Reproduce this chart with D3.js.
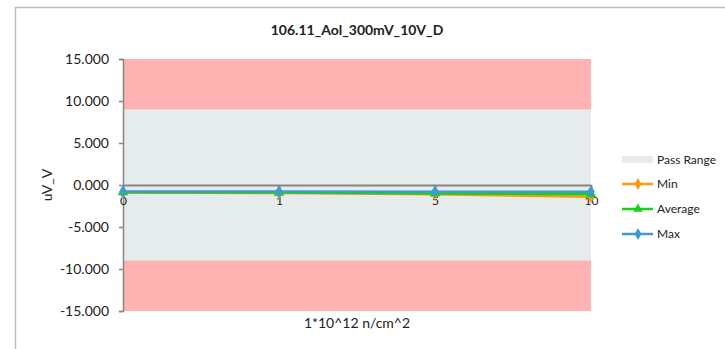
<!DOCTYPE html>
<html>
<head>
<meta charset="utf-8">
<script src="https://cdn.jsdelivr.net/npm/d3@7"></script>
<style>
body { margin: 0; background: #fff; }
text { font-family: Lato, "Open Sans", sans-serif; fill: #222; }
</style>
</head>
<body>
<div id="chart"></div>
<script>
const categories = ["0", "1", "5", "10"];
const minValues = [-0.9, -0.95, -1.1, -1.4];
const avgValues = [-0.85, -0.9, -1.0, -1.1];
const maxValues = [-0.78, -0.78, -0.8, -0.8];
const passRange = [-9, 9];
const yTicks = [15, 10, 5, 0, -5, -10, -15];

const W = 725, H = 349;
const margin = { top: 59, left: 123, right: 134, bottom: 38 };
const pw = W - margin.left - margin.right;
const ph = H - margin.top - margin.bottom;

const svg = d3.select("#chart").append("svg")
    .attr("width", W)
    .attr("height", H);

// chart border
svg.append("path")
    .attr("d", "M15.5," + H + "V7.5H" + W)
    .attr("fill", "none")
    .attr("stroke", "#bfbfbf")
    .attr("stroke-width", 1.5);

const g = svg.append("g")
    .attr("transform", "translate(" + margin.left + "," + margin.top + ")");

const x = d3.scalePoint().domain(categories).range([0, pw]);
const y = d3.scaleLinear().domain([-15, 15]).range([ph, 0]);

// out of range background
g.append("rect")
    .attr("width", pw)
    .attr("height", ph)
    .attr("fill", "#ffb2b2");

// pass range band
g.append("rect")
    .attr("x", 0)
    .attr("width", pw)
    .attr("y", y(passRange[1]))
    .attr("height", y(passRange[0]) - y(passRange[1]))
    .attr("fill", "#e6ebeb");

// y axis
const fmt = d3.format(".3f");
const yAxis = d3.axisLeft(y).tickValues(yTicks).tickSize(4).tickPadding(10)
    .tickFormat(d => fmt(d).replace("\u2212", "-"));
g.append("g").call(yAxis)
    .call(a => a.selectAll("path, line").attr("stroke", "#868686").attr("stroke-width", 1.5))
    .call(a => a.selectAll("text").style("font-size", "14px").attr("fill", "#222"));

// x axis at zero
const xAxis = d3.axisBottom(x).tickSize(7).tickPadding(4).tickSizeOuter(0);
g.append("g")
    .attr("transform", "translate(0," + y(0) + ")")
    .call(xAxis)
    .call(a => a.selectAll("path, line").attr("stroke", "#868686").attr("stroke-width", 2))
    .call(a => a.selectAll("text").style("font-size", "12px").attr("fill", "#222"));

const series = [
    { name: "Min", values: minValues, color: "#ff9a0f", symbol: d3.symbolDiamond },
    { name: "Average", values: avgValues, color: "#17d117", symbol: d3.symbolTriangle },
    { name: "Max", values: maxValues, color: "#3e9bd0", symbol: d3.symbolDiamond }
];

const line = d3.line()
    .x((d, i) => x(categories[i]))
    .y(d => y(d));

series.forEach(s => {
    g.append("path")
        .datum(s.values)
        .attr("fill", "none")
        .attr("stroke", s.color)
        .attr("stroke-width", 2.5)
        .attr("d", line);
    g.selectAll(null)
        .data(s.values)
        .enter().append("path")
        .attr("transform", (d, i) => "translate(" + x(categories[i]) + "," + y(d) + ")")
        .attr("d", d3.symbol().type(s.symbol).size(50))
        .attr("fill", s.color);
});

// title
svg.append("text")
    .attr("x", margin.left + pw / 2)
    .attr("y", 35)
    .attr("text-anchor", "middle")
    .style("font-size", "14px")
    .style("font-weight", "bold")
    .text("106.11_Aol_300mV_10V_D");

// axis titles
svg.append("text")
    .attr("x", margin.left + pw / 2)
    .attr("y", 328)
    .attr("text-anchor", "middle")
    .style("font-size", "14px")
    .text("1*10^12 n/cm^2");

svg.append("text")
    .attr("transform", "translate(52," + (margin.top + y(0)) + ") rotate(-90)")
    .attr("text-anchor", "middle")
    .style("font-size", "14px")
    .text("uV_V");

// legend
const lx = 622;
const legend = svg.append("g");
legend.append("rect")
    .attr("x", lx).attr("y", 156)
    .attr("width", 31).attr("height", 7)
    .attr("fill", "#e6ebeb");
legend.append("text")
    .attr("x", lx + 35).attr("y", 164)
    .style("font-size", "12px")
    .text("Pass Range");

series.forEach((s, i) => {
    const ly = 184 + i * 25;
    legend.append("line")
        .attr("x1", lx).attr("x2", lx + 31)
        .attr("y1", ly).attr("y2", ly)
        .attr("stroke", s.color).attr("stroke-width", 2.5);
    legend.append("path")
        .attr("transform", "translate(" + (lx + 16) + "," + ly + ")")
        .attr("d", d3.symbol().type(s.symbol).size(40))
        .attr("fill", s.color);
    legend.append("text")
        .attr("x", lx + 35).attr("y", ly + 4)
        .style("font-size", "12px")
        .text(s.name);
});
</script>
</body>
</html>
